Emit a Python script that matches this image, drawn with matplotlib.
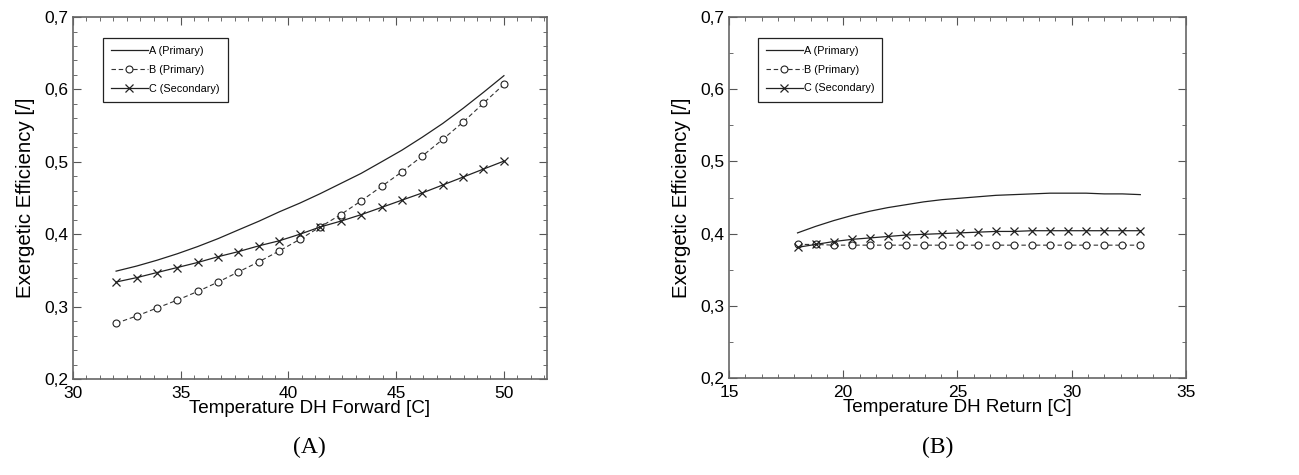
import matplotlib
matplotlib.use("Agg")
import matplotlib.pyplot as plt
from matplotlib.ticker import MultipleLocator, AutoMinorLocator, FuncFormatter

plt.rcParams["font.family"] = ["Liberation Sans", "DejaVu Sans"]

# (A) Temperature DH Forward
t_forward = [32, 32.95, 33.89, 34.84, 35.79, 36.74, 37.68, 38.63, 39.58, 40.53,
             41.47, 42.42, 43.37, 44.32, 45.26, 46.21, 47.16, 48.11, 49.05, 50]
a_forward = [0.349, 0.356, 0.364, 0.373, 0.383, 0.394, 0.406, 0.418, 0.431, 0.443,
             0.456, 0.470, 0.484, 0.500, 0.516, 0.534, 0.553, 0.574, 0.596, 0.619]
b_forward = [0.277, 0.287, 0.298, 0.309, 0.321, 0.334, 0.348, 0.362, 0.377, 0.393,
             0.410, 0.427, 0.446, 0.466, 0.486, 0.508, 0.531, 0.555, 0.581, 0.607]
c_forward = [0.334, 0.340, 0.347, 0.354, 0.361, 0.369, 0.376, 0.384, 0.391, 0.400,
             0.410, 0.418, 0.427, 0.437, 0.447, 0.457, 0.468, 0.479, 0.490, 0.501]

# (B) Temperature DH Return
t_return = [18, 18.79, 19.58, 20.37, 21.16, 21.95, 22.74, 23.53, 24.32, 25.11,
            25.89, 26.68, 27.47, 28.26, 29.05, 29.84, 30.63, 31.42, 32.21, 33]
a_return = [0.401, 0.410, 0.418, 0.425, 0.431, 0.436, 0.440, 0.444, 0.447, 0.449,
            0.451, 0.453, 0.454, 0.455, 0.456, 0.456, 0.456, 0.455, 0.455, 0.454]
b_return = [0.385, 0.385, 0.384, 0.384, 0.384, 0.384, 0.384, 0.384, 0.384, 0.384,
            0.384, 0.384, 0.384, 0.384, 0.384, 0.384, 0.384, 0.384, 0.384, 0.384]
c_return = [0.381, 0.385, 0.389, 0.392, 0.394, 0.396, 0.398, 0.399, 0.400, 0.401,
            0.402, 0.403, 0.403, 0.404, 0.404, 0.404, 0.404, 0.404, 0.404, 0.404]

labels = ["A (Primary)", "B (Primary)", "C (Secondary)"]

fig = plt.figure(figsize=(12.99, 4.75), dpi=100)
ax1 = fig.add_axes([0.0562, 0.2021, 0.3649, 0.762])
ax2 = fig.add_axes([0.5612, 0.2042, 0.3518, 0.760])

comma = FuncFormatter(lambda v, p: f"{v:.1f}".replace(".", ","))


def draw(ax, x, a, b, c, xlim, xminor, yminor, xlabel):
    ax.plot(x, a, color="#222222", lw=0.9, label=labels[0])
    ax.plot(x, b, color="#333333", lw=0.8, ls=(0, (4, 2.5)), marker="o", ms=5,
            mfc="white", mec="#222222", mew=0.8, label=labels[1])
    ax.plot(x, c, color="#222222", lw=0.9, marker="x", ms=6, mew=0.9,
            label=labels[2])
    ax.set_xlim(*xlim)
    ax.set_ylim(0.2, 0.7)
    ax.xaxis.set_major_locator(MultipleLocator(5))
    ax.xaxis.set_minor_locator(AutoMinorLocator(xminor))
    ax.yaxis.set_major_locator(MultipleLocator(0.1))
    ax.yaxis.set_minor_locator(AutoMinorLocator(yminor))
    ax.yaxis.set_major_formatter(comma)
    ax.tick_params(which="both", direction="in", top=True, right=True,
                   color="#555555", labelsize=12.5)
    ax.tick_params(axis="x", pad=5)
    ax.tick_params(axis="y", pad=3)
    ax.tick_params(which="major", length=6)
    ax.tick_params(which="minor", length=3)
    for s in ax.spines.values():
        s.set_color("#666666")
        s.set_linewidth(1.2)
    ax.set_xlabel(xlabel, fontsize=13.6, labelpad=-1)
    ax.set_ylabel("Exergetic Efficiency [/]", fontsize=14.7, labelpad=7)
    leg = ax.legend(loc="upper left", bbox_to_anchor=(0.063, 0.942),
                    borderaxespad=0, fontsize=7.8, handlelength=3.4,
                    handletextpad=0.1, labelspacing=0.8, numpoints=1,
                    fancybox=False, framealpha=1, edgecolor="#222222",
                    borderpad=0.75)
    leg.get_frame().set_linewidth(0.9)


draw(ax1, t_forward, a_forward, b_forward, c_forward, (30, 52), 8, 5,
     "Temperature DH Forward [C]")
draw(ax2, t_return, a_return, b_return, c_return, (15, 35), 7, 2,
     "Temperature DH Return [C]")

fig.text(0.2385, 0.058, "(A)", ha="center", va="center", fontsize=17,
         family="Liberation Serif")
fig.text(0.7215, 0.058, "(B)", ha="center", va="center", fontsize=17,
         family="Liberation Serif")

fig.savefig("out.png", dpi=100)
